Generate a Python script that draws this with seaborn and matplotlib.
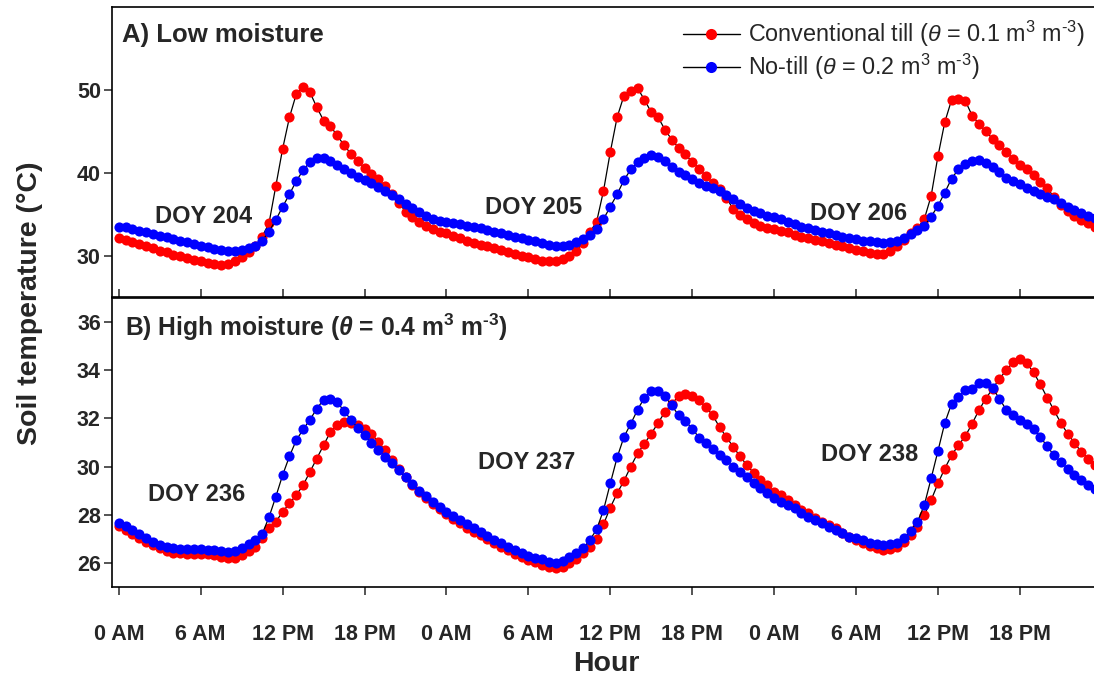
import numpy as np
import pandas as pd
import matplotlib
matplotlib.use("Agg")
import matplotlib.pyplot as plt
from matplotlib.lines import Line2D
import seaborn as sns

# ---------------- data (half-hourly, 3 days) ----------------
hours = np.arange(0, 72, 0.5)

top_ct = [
    32.1, 31.9, 31.6, 31.4, 31.1, 30.9, 30.6, 30.4, 30.1, 29.9, 29.7, 29.5, 29.3, 29.1, 29.0, 28.9,
    29.0, 29.3, 29.8, 30.4, 31.2, 32.3, 33.9, 38.4, 42.9, 46.7, 49.5, 50.4, 49.7, 47.9, 46.3, 45.6,
    44.5, 43.3, 42.3, 41.4, 40.6, 39.9, 39.2, 38.4, 37.4, 36.4, 35.3, 34.6, 34.0, 33.6, 33.2, 32.9,
    32.7, 32.4, 32.1, 31.8, 31.5, 31.3, 31.1, 30.9, 30.7, 30.4, 30.2, 30.0, 29.8, 29.6, 29.4, 29.3,
    29.4, 29.6, 30.0, 30.6, 31.5, 32.8, 34.1, 37.8, 42.5, 46.7, 49.3, 49.9, 50.2, 48.8, 47.3, 46.7,
    45.2, 44.0, 43.0, 42.2, 41.3, 40.5, 39.6, 38.8, 38.0, 37.0, 35.6, 34.9, 34.4, 33.9, 33.6, 33.3,
    33.2, 33.0, 32.8, 32.5, 32.3, 32.1, 31.9, 31.7, 31.5, 31.3, 31.1, 30.9, 30.7, 30.5, 30.3, 30.2,
    30.2, 30.5, 31.2, 31.9, 32.7, 33.3, 34.4, 37.2, 42.0, 46.1, 48.8, 48.9, 48.7, 46.9, 45.9, 45.0,
    44.1, 43.3, 42.5, 41.7, 40.9, 40.4, 39.7, 38.9, 38.1, 37.1, 36.1, 35.4, 34.8, 34.3, 33.9, 33.4,
]
top_nt = [
    33.5, 33.4, 33.2, 33.0, 32.8, 32.6, 32.4, 32.2, 32.0, 31.8, 31.6, 31.4, 31.2, 31.0, 30.8, 30.7,
    30.6, 30.6, 30.7, 30.9, 31.2, 31.8, 32.9, 34.3, 35.9, 37.4, 39.0, 40.3, 41.3, 41.8, 41.8, 41.4,
    40.9, 40.4, 40.0, 39.5, 39.1, 38.7, 38.3, 37.8, 37.3, 36.8, 36.2, 35.7, 35.2, 34.8, 34.4, 34.2,
    34.1, 33.9, 33.8, 33.6, 33.5, 33.3, 33.1, 32.9, 32.7, 32.5, 32.3, 32.1, 31.9, 31.7, 31.5, 31.3,
    31.2, 31.2, 31.3, 31.6, 32.0, 32.5, 33.2, 34.4, 35.9, 37.4, 39.1, 40.4, 41.3, 41.8, 42.1, 41.9,
    41.4, 40.7, 40.1, 39.7, 39.3, 38.8, 38.4, 38.1, 37.8, 37.3, 36.8, 36.2, 35.7, 35.4, 35.1, 34.8,
    34.6, 34.4, 34.1, 33.8, 33.5, 33.3, 33.1, 32.9, 32.7, 32.5, 32.3, 32.1, 32.0, 31.8, 31.7, 31.6,
    31.5, 31.6, 31.8, 32.1, 32.6, 33.1, 33.6, 34.7, 36.0, 37.6, 39.3, 40.4, 41.0, 41.4, 41.5, 41.2,
    40.7, 40.1, 39.4, 39.0, 38.6, 38.2, 37.8, 37.4, 37.1, 36.8, 36.4, 35.9, 35.5, 35.1, 34.8, 34.5,
]
bot_ct = [
    27.53, 27.36, 27.20, 27.04, 26.88, 26.74, 26.60, 26.50, 26.43, 26.40, 26.37, 26.37, 26.37, 26.35, 26.33, 26.26,
    26.19, 26.20, 26.33, 26.50, 26.67, 27.02, 27.44, 27.71, 28.12, 28.47, 28.82, 29.23, 29.78, 30.33, 30.89, 31.44,
    31.71, 31.85, 31.80, 31.71, 31.58, 31.37, 31.02, 30.68, 30.26, 29.92, 29.57, 29.23, 28.95, 28.70, 28.44, 28.23,
    28.03, 27.83, 27.64, 27.47, 27.30, 27.14, 26.98, 26.82, 26.67, 26.52, 26.37, 26.24, 26.12, 26.02, 25.92, 25.82,
    25.78, 25.82, 25.99, 26.15, 26.40, 26.67, 26.98, 27.60, 28.30, 28.89, 29.41, 30.00, 30.55, 30.95, 31.37, 31.81,
    32.27, 32.61, 32.92, 33.03, 32.95, 32.75, 32.47, 32.13, 31.64, 31.23, 30.82, 30.43, 30.06, 29.74, 29.44, 29.23,
    28.95, 28.82, 28.61, 28.40, 28.19, 28.06, 27.85, 27.71, 27.57, 27.44, 27.26, 27.09, 26.95, 26.84, 26.70, 26.61,
    26.54, 26.56, 26.67, 26.88, 27.16, 27.50, 27.99, 28.61, 29.30, 29.92, 30.47, 30.89, 31.26, 31.78, 32.34, 32.82,
    33.23, 33.65, 33.99, 34.34, 34.48, 34.29, 33.92, 33.41, 32.86, 32.34, 31.81, 31.37, 30.98, 30.61, 30.33, 30.06,
]
bot_nt = [
    27.67, 27.52, 27.37, 27.20, 27.02, 26.88, 26.75, 26.66, 26.60, 26.57, 26.56, 26.56, 26.57, 26.55, 26.53, 26.50,
    26.47, 26.50, 26.60, 26.80, 26.95, 27.20, 27.90, 28.75, 29.65, 30.43, 31.10, 31.54, 31.95, 32.40, 32.78, 32.82,
    32.68, 32.30, 31.95, 31.60, 31.30, 30.98, 30.68, 30.40, 30.13, 29.84, 29.55, 29.27, 28.99, 28.76, 28.54, 28.33,
    28.12, 27.95, 27.78, 27.61, 27.44, 27.28, 27.12, 26.97, 26.82, 26.68, 26.54, 26.41, 26.29, 26.22, 26.15, 26.05,
    26.00, 26.10, 26.25, 26.42, 26.60, 26.95, 27.39, 28.19, 29.30, 30.38, 31.23, 31.78, 32.36, 32.86, 33.13, 33.13,
    32.92, 32.54, 32.13, 31.89, 31.58, 31.20, 30.98, 30.75, 30.47, 30.26, 29.99, 29.78, 29.57, 29.30, 29.09, 28.89,
    28.68, 28.54, 28.40, 28.26, 28.08, 27.92, 27.78, 27.64, 27.50, 27.37, 27.23, 27.09, 27.02, 26.95, 26.84, 26.79,
    26.75, 26.79, 26.84, 27.02, 27.34, 27.71, 28.40, 29.51, 30.65, 31.81, 32.61, 32.89, 33.16, 33.23, 33.47, 33.47,
    33.26, 32.82, 32.36, 32.13, 31.92, 31.76, 31.54, 31.23, 30.84, 30.47, 30.19, 29.92, 29.64, 29.44, 29.23, 29.05,
]

xtick_pos = [0, 6, 12, 18, 24, 30, 36, 42, 48, 54, 60, 66]
xtick_labels = ["0 AM", "6 AM", "12 PM", "18 PM"] * 3
top_yticks = [30, 40, 50]
bot_yticks = [26, 28, 30, 32, 34, 36]

top_doy = ["DOY 204", "DOY 205", "DOY 206"]
top_doy_xy = [(6.2, 34.7), (30.4, 35.8), (54.2, 35.1)]
bot_doy = ["DOY 236", "DOY 237", "DOY 238"]
bot_doy_xy = [(5.7, 28.86), (29.9, 30.19), (55.0, 30.5)]

lab_ct = "Conventional till ($\\theta$ = 0.1 m$^{3}$ m$^{\u20103}$)"
lab_nt = "No-till ($\\theta$ = 0.2 m$^{3}$ m$^{\u20103}$)"
title_b = "B) High moisture ($\\mathbfit{\\theta}$ = 0.4 m$^{\\mathbf{3}}$ m$^{\\mathbf{\u20103}}$)"

RED = "#ff0000"
BLUE = "#0000ff"

# ---------------- style ----------------
sns.set_style("ticks")
plt.rcParams.update({
    "font.family": ["Liberation Sans", "DejaVu Sans"],
    "mathtext.fontset": "custom",
    "mathtext.rm": "Liberation Sans",
    "mathtext.it": "Liberation Sans:italic",
    "mathtext.bf": "Liberation Sans:bold",
    "mathtext.bfit": "Liberation Sans:italic:bold",
    "axes.linewidth": 1.2,
    "axes.edgecolor": "black",
})

W, H = 1094, 677
fig = plt.figure(figsize=(W / 100, H / 100), dpi=100)
left = 112 / W
axA = fig.add_axes([left, 1 - 297 / H, 1 - left, 290 / H])
axB = fig.add_axes([left, 1 - 587 / H, 1 - left, 289 / H])

MS = 7.3


def draw(ax, ct, nt):
    df = pd.DataFrame({"hour": hours, "ct": ct, "nt": nt})
    sns.lineplot(data=df, x="hour", y="ct", ax=ax, color="black", lw=0.9,
                 marker="o", markersize=MS, markerfacecolor=RED,
                 markeredgecolor=RED, markeredgewidth=0, legend=False)
    sns.lineplot(data=df, x="hour", y="nt", ax=ax, color="black", lw=0.9,
                 marker="o", markersize=MS, markerfacecolor=BLUE,
                 markeredgecolor=BLUE, markeredgewidth=0, legend=False)
    ax.set_xlim(-0.5, 71.43)
    ax.set_xlabel("")
    ax.set_ylabel("")
    ax.spines["right"].set_visible(False)
    ax.set_xticks(xtick_pos)


draw(axA, top_ct, top_nt)
draw(axB, bot_ct, bot_nt)

axA.set_ylim(25, 60)
axA.set_yticks(top_yticks)
axA.set_yticklabels([str(v) for v in top_yticks], fontweight="bold")
axA.tick_params(axis="x", direction="in", length=6, width=1.1, labelbottom=False)
axA.tick_params(axis="y", direction="out", length=6, width=1.1, pad=2, labelsize=15.5)

axB.set_ylim(25, 37)
axB.set_yticks(bot_yticks)
axB.set_yticklabels([str(v) for v in bot_yticks], fontweight="bold")
axB.set_xticklabels(xtick_labels, fontweight="bold")
axB.tick_params(axis="x", direction="out", length=5.5, width=1.1, pad=21, labelsize=15.5)
axB.tick_params(axis="y", direction="out", length=6, width=1.1, pad=2, labelsize=15.5)

# panel titles
axA.text(0.0099, 0.905, "A) Low moisture", transform=axA.transAxes,
         fontsize=18.5, fontweight="bold", ha="left", va="center")
axB.text(0.0132, 0.90, title_b,
         transform=axB.transAxes, fontsize=17.7, fontweight="bold", ha="left", va="center")

for t, (x, y) in zip(top_doy, top_doy_xy):
    axA.text(x, y, t, fontsize=17, fontweight="bold", ha="center", va="center")
for t, (x, y) in zip(bot_doy, bot_doy_xy):
    axB.text(x, y, t, fontsize=17, fontweight="bold", ha="center", va="center")

# legend
handles = [
    Line2D([], [], color="black", lw=1, marker="o", ms=8, mfc=RED, mec=RED, mew=0),
    Line2D([], [], color="black", lw=1, marker="o", ms=8, mfc=BLUE, mec=BLUE, mew=0),
]
axA.legend(handles, [lab_ct, lab_nt], loc="upper right",
           bbox_to_anchor=(1085 / W, 1 - 19 / H), bbox_transform=fig.transFigure,
           frameon=False, fontsize=16.8, handlelength=2.45, handletextpad=0.35,
           labelspacing=0.13, borderaxespad=0, borderpad=0)

fig.text(30 / W, 1 - 303 / H, "Soil temperature (°C)", rotation=90,
         fontsize=20.5, fontweight="bold", ha="center", va="center")
fig.text(606 / W, 1 - 664 / H, "Hour", fontsize=20.5, fontweight="bold",
         ha="center", va="center")

fig.savefig("out.png", dpi=100)
